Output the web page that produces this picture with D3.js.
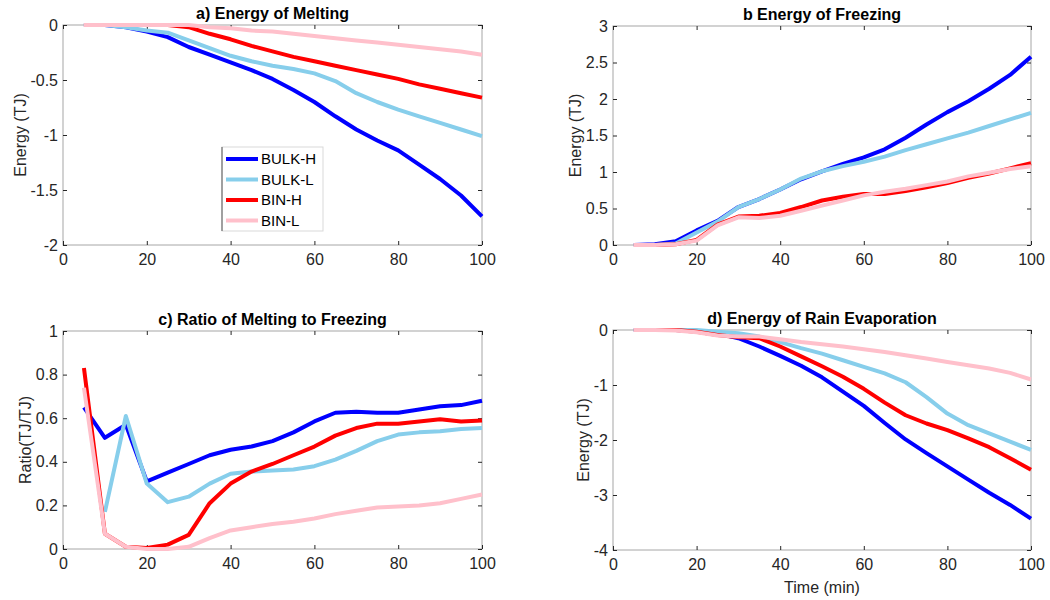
<!DOCTYPE html>
<html><head><meta charset="utf-8">
<script src="https://cdn.jsdelivr.net/npm/d3@7"></script>
<style>body{margin:0;background:#fff;} text{font-family:"Liberation Sans",Arial,sans-serif;}</style>
</head><body>
<svg id="chart" width="1050" height="600"></svg>
<script>
const time = [5,10,15,20,25,30,35,40,45,50,55,60,65,70,75,80,85,90,95,100];
const seriesNames = ["BULK-H","BULK-L","BIN-H","BIN-L"];
const seriesColors = ["#0000ff","#87ceeb","#ff0000","#ffc0cb"];

// a) Energy of Melting
const meltBulkH = [0,0,-0.02,-0.06,-0.11,-0.20,-0.27,-0.34,-0.41,-0.49,-0.59,-0.70,-0.83,-0.95,-1.05,-1.14,-1.27,-1.40,-1.55,-1.74];
const meltBulkL = [0,0,-0.02,-0.05,-0.07,-0.14,-0.21,-0.28,-0.33,-0.37,-0.40,-0.44,-0.51,-0.62,-0.70,-0.77,-0.83,-0.89,-0.95,-1.01];
const meltBinH  = [0,0,0,0,0,-0.02,-0.08,-0.13,-0.19,-0.24,-0.29,-0.33,-0.37,-0.41,-0.45,-0.49,-0.54,-0.58,-0.62,-0.66];
const meltBinL  = [0,0,0,0,0,0,-0.02,-0.03,-0.05,-0.06,-0.08,-0.10,-0.12,-0.14,-0.16,-0.18,-0.20,-0.22,-0.24,-0.27];

// b) Energy of Freezing
const frzBulkH = [0,0.01,0.05,0.20,0.33,0.52,0.63,0.76,0.90,1.01,1.11,1.20,1.31,1.47,1.65,1.82,1.97,2.14,2.33,2.58];
const frzBulkL = [0,0,0.02,0.17,0.32,0.52,0.63,0.76,0.91,1.01,1.08,1.14,1.21,1.30,1.38,1.46,1.54,1.63,1.72,1.81];
const frzBinH  = [0,0,0.01,0.07,0.28,0.39,0.40,0.44,0.52,0.61,0.66,0.70,0.70,0.74,0.79,0.85,0.92,0.98,1.05,1.12];
const frzBinL  = [0,0,0.01,0.06,0.27,0.38,0.37,0.40,0.47,0.54,0.61,0.68,0.73,0.77,0.82,0.87,0.94,0.99,1.04,1.08];

// c) Ratio of Melting to Freezing
const ratBulkH = [0.65,0.51,0.57,0.31,0.35,0.39,0.43,0.455,0.47,0.495,0.535,0.585,0.625,0.63,0.625,0.625,0.64,0.655,0.66,0.68];
const ratBulkL = [null,0.17,0.61,0.30,0.215,0.24,0.30,0.345,0.355,0.36,0.365,0.38,0.41,0.45,0.495,0.525,0.535,0.54,0.55,0.555];
const ratBinH  = [0.83,0.07,0.01,0.005,0.02,0.065,0.21,0.30,0.355,0.39,0.43,0.47,0.52,0.555,0.575,0.575,0.585,0.595,0.585,0.59];
const ratBinL  = [0.74,0.07,0.01,0.0,0.0,0.01,0.05,0.085,0.10,0.115,0.125,0.14,0.16,0.175,0.19,0.195,0.20,0.21,0.23,0.25];

// d) Energy of Rain Evaporation
const evpBulkH = [0,0,0,-0.02,-0.06,-0.15,-0.30,-0.47,-0.65,-0.86,-1.12,-1.38,-1.69,-1.99,-2.24,-2.48,-2.72,-2.96,-3.18,-3.43];
const evpBulkL = [0,0,0,0,-0.03,-0.06,-0.12,-0.22,-0.33,-0.43,-0.55,-0.67,-0.79,-0.95,-1.22,-1.52,-1.73,-1.88,-2.03,-2.18];
const evpBinH  = [0,0,0,-0.03,-0.09,-0.13,-0.15,-0.30,-0.48,-0.66,-0.85,-1.07,-1.32,-1.55,-1.70,-1.82,-1.97,-2.13,-2.33,-2.54];
const evpBinL  = [0,0,-0.01,-0.04,-0.10,-0.12,-0.12,-0.17,-0.22,-0.26,-0.30,-0.35,-0.40,-0.46,-0.52,-0.58,-0.64,-0.70,-0.78,-0.90];

const xTicks = [0,20,40,60,80,100];
const yTicksA = [0,-0.5,-1,-1.5,-2];
const yTicksB = [0,0.5,1,1.5,2,2.5,3];
const yTicksC = [0,0.2,0.4,0.6,0.8,1];
const yTicksD = [0,-1,-2,-3,-4];

const svg = d3.select("#chart");

const panels = [
  {title:"a) Energy of Melting", L:63,R:482,T:25,B:245, ydom:[-2,0], yt:yTicksA, ylab:"Energy (TJ)", ylx:20,
   data:[meltBulkH,meltBulkL,meltBinH,meltBinL], legend:true},
  {title:"b Energy of Freezing", L:613,R:1031,T:26,B:245, ydom:[0,3], yt:yTicksB, ylab:"Energy (TJ)", ylx:575,
   data:[frzBulkH,frzBulkL,frzBinH,frzBinL]},
  {title:"c) Ratio of Melting to Freezing", L:63,R:482,T:331,B:549, ydom:[0,1], yt:yTicksC, ylab:"Ratio(TJ/TJ)", ylx:25,
   data:[ratBulkH,ratBulkL,ratBinH,ratBinL]},
  {title:"d) Energy of Rain Evaporation", L:613,R:1031,T:330,B:550, ydom:[-4,0], yt:yTicksD, ylab:"Energy (TJ)", ylx:583,
   data:[evpBulkH,evpBulkL,evpBinH,evpBinL], xlab:"Time (min)"}
];

const fmt = v => String(v);

panels.forEach(p => {
  const x = d3.scaleLinear().domain([0,100]).range([p.L,p.R]);
  const y = d3.scaleLinear().domain(p.ydom).range([p.B,p.T]);
  const g = svg.append("g");

  g.append("rect").attr("x",p.L).attr("y",p.T).attr("width",p.R-p.L).attr("height",p.B-p.T)
    .attr("fill","none").attr("stroke","#a6a6a6").attr("stroke-width",1);

  const ax = (axis, tx, ty) => {
    const a = g.append("g").attr("transform",`translate(${tx},${ty})`).call(axis);
    a.select(".domain").remove();
    a.selectAll("line").attr("stroke","#262626");
    a.selectAll("text").attr("fill","#262626").style("font-size","16px").style("font-family","'Liberation Sans',Arial,sans-serif");
    return a;
  };
  ax(d3.axisBottom(x).tickValues(xTicks).tickFormat(fmt).tickSizeInner(-4).tickSizeOuter(0).tickPadding(9), 0, p.B)
    .selectAll("text").attr("dy","0.71em");
  ax(d3.axisTop(x).tickValues(xTicks).tickFormat("").tickSizeInner(-4).tickSizeOuter(0), 0, p.T);
  ax(d3.axisLeft(y).tickValues(p.yt).tickFormat(fmt).tickSizeInner(-4).tickSizeOuter(0).tickPadding(5), p.L, 0);
  ax(d3.axisRight(y).tickValues(p.yt).tickFormat("").tickSizeInner(-4).tickSizeOuter(0), p.R, 0);

  const line = d3.line().defined(d => d[1] !== null).x(d => x(d[0])).y(d => y(d[1]));
  p.data.forEach((vals, i) => {
    g.append("path").datum(time.map((t,k)=>[t, vals[k]]))
      .attr("d", line).attr("fill","none").attr("stroke", seriesColors[i])
      .attr("stroke-width",4).attr("stroke-linejoin","round");
  });

  g.append("text").attr("x",(p.L+p.R)/2).attr("y",p.T-6).attr("text-anchor","middle")
    .style("font-size","16px").style("font-weight","bold").attr("fill","#000").text(p.title);

  g.append("text").attr("transform",`translate(${p.ylx},${(p.T+p.B)/2}) rotate(-90)`)
    .attr("text-anchor","middle").attr("dy","0.35em").style("font-size","16px").attr("fill","#262626").text(p.ylab);

  if (p.xlab) {
    g.append("text").attr("x",(p.L+p.R)/2).attr("y",p.B+43).attr("text-anchor","middle")
      .style("font-size","16px").attr("fill","#262626").text(p.xlab);
  }

  if (p.legend) {
    const lg = g.append("g").attr("transform","translate(222,147)");
    lg.append("rect").attr("width",101).attr("height",84).attr("fill","#fff").attr("stroke","#d9d9d9");
    lg.append("line").attr("x1",0).attr("x2",0).attr("y1",0).attr("y2",84).attr("stroke","#555");
    seriesNames.forEach((n,i) => {
      const yy = 12 + i*20.5;
      lg.append("line").attr("x1",4).attr("x2",36).attr("y1",yy).attr("y2",yy)
        .attr("stroke",seriesColors[i]).attr("stroke-width",4);
      lg.append("text").attr("x",39).attr("y",yy).attr("dy","0.35em").style("font-size","15px")
        .attr("fill","#000").text(n);
    });
  }
});
</script>
</body></html>
